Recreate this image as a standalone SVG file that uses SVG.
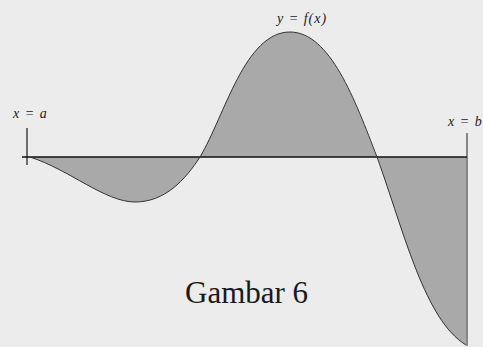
<svg xmlns="http://www.w3.org/2000/svg" width="483" height="347" viewBox="0 0 483 347">
<style>
.lbl{font-family:"Liberation Serif",serif;font-style:italic;font-size:14px;fill:#222}
.cap{font-family:"Liberation Serif",serif;font-size:31px;fill:#1a1a1a}
</style>
<rect width="483" height="347" fill="#ececec"/>
<g id="area">
<path d="M30,157 C70,170 105,202 135,202 C165,202 185,180 200,157 C225,115 245,32 290,32 C330,32 355,100 377,157 C405,235 425,320 466,345 L466,157 Z" fill="#a9a9a9" stroke="none"/>
</g>
<g id="connectors">
<line x1="27" y1="128" x2="27" y2="165" stroke="#444" stroke-width="1.5"/>
<line x1="467" y1="133" x2="467" y2="346" stroke="#666" stroke-width="1.5"/>
<line x1="22" y1="157" x2="467" y2="157" stroke="#111" stroke-width="1.5"/>
<path d="M30,157 C70,170 105,202 135,202 C165,202 185,180 200,157 C225,115 245,32 290,32 C330,32 355,100 377,157 C405,235 425,320 466,345" fill="none" stroke="#333" stroke-width="1"/>
</g>
<g id="label-a"><text class="lbl" x="13" y="118" letter-spacing="1">x = a</text></g>
<g id="label-b"><text class="lbl" x="448" y="126" letter-spacing="1">x = b</text></g>
<g id="label-f"><text class="lbl" x="277" y="23" letter-spacing="1">y = f(x)</text></g>
<g id="caption"><text class="cap" x="185" y="303">Gambar 6</text></g>
</svg>
